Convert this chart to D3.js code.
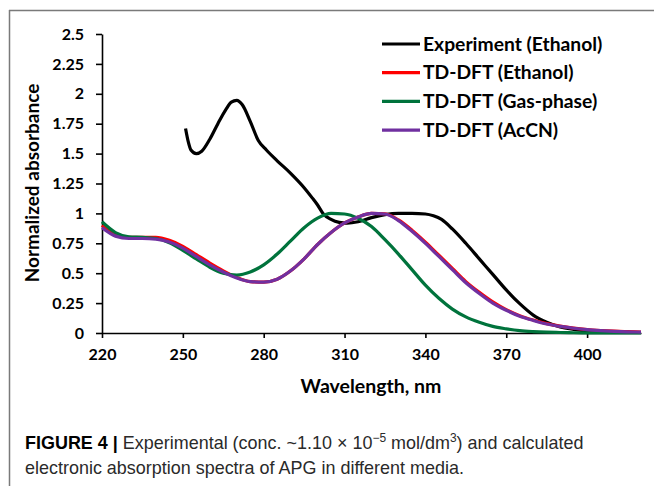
<!DOCTYPE html>
<html>
<head>
<meta charset="utf-8">
<script src="https://cdn.jsdelivr.net/npm/d3@7"></script>
<style>
  body { margin: 0; background: #fff; }
  svg { display: block; }
  .axis text { font-family: Lato, "Open Sans", sans-serif; font-weight: bold; font-size: 16px; fill: #000; }
  .axis path, .axis line { stroke: #000; stroke-width: 1.6px; }
</style>
</head>
<body>
<svg id="fig" width="654" height="486"></svg>
<script>
// series names + colours (legend order)
var seriesNames = ["Experiment (Ethanol)", "TD-DFT (Ethanol)", "TD-DFT (Gas-phase)", "TD-DFT (AcCN)"];
var seriesColors = ["#000000", "#ff0000", "#00733c", "#7030a0"];

// experimental spectrum (nm / normalized absorbance)
var expNm  = [251, 252, 253, 255, 257, 260, 263, 266, 268, 270, 272, 275, 278, 281, 285, 290, 295, 298, 300, 302, 305, 308, 311, 315, 320, 325, 330, 335, 340, 343, 346, 350, 355, 360, 365, 370, 375, 380, 385, 390, 395, 400, 405];
var expAbs = [1.71, 1.60, 1.53, 1.50, 1.52, 1.62, 1.75, 1.87, 1.93, 1.945, 1.91, 1.77, 1.61, 1.53, 1.44, 1.335, 1.215, 1.13, 1.07, 1.0, 0.95, 0.925, 0.918, 0.93, 0.965, 0.99, 1.0, 1.0, 0.995, 0.98, 0.95, 0.87, 0.75, 0.62, 0.49, 0.36, 0.245, 0.15, 0.09, 0.05, 0.03, 0.016, 0.006];

// TD-DFT spectra, all on one wavelength grid
var calcNm = [220, 225, 230, 235, 240, 245, 250, 255, 260, 265, 270, 275, 280, 285, 290, 295, 300, 305, 310, 315, 320, 325, 330, 335, 340, 345, 350, 355, 360, 365, 370, 375, 380, 385, 390, 395, 400, 405, 410, 415, 420];
var ethanolAbs = [0.90, 0.82, 0.80, 0.80, 0.80, 0.775, 0.725, 0.655, 0.585, 0.52, 0.465, 0.43, 0.425, 0.45, 0.52, 0.62, 0.74, 0.84, 0.92, 0.97, 1.0, 0.997, 0.945, 0.86, 0.76, 0.65, 0.54, 0.43, 0.34, 0.26, 0.195, 0.145, 0.108, 0.078, 0.057, 0.041, 0.029, 0.021, 0.015, 0.011, 0.008];
var gasAbs = [0.93, 0.84, 0.805, 0.80, 0.79, 0.755, 0.69, 0.62, 0.55, 0.50, 0.485, 0.51, 0.57, 0.66, 0.77, 0.88, 0.96, 1.0, 0.995, 0.96, 0.89, 0.78, 0.66, 0.53, 0.40, 0.29, 0.20, 0.135, 0.09, 0.055, 0.035, 0.02, 0.012, 0.007, 0.004, 0.002, 0.001, 0.001, 0.001, 0.001, 0.001];
var accnAbs = [0.88, 0.81, 0.79, 0.79, 0.785, 0.76, 0.71, 0.64, 0.57, 0.51, 0.46, 0.43, 0.425, 0.45, 0.52, 0.62, 0.74, 0.84, 0.92, 0.97, 1.0, 0.995, 0.94, 0.85, 0.75, 0.64, 0.53, 0.42, 0.33, 0.25, 0.19, 0.14, 0.105, 0.075, 0.055, 0.04, 0.028, 0.02, 0.014, 0.01, 0.008];

var xTicks = [220, 250, 280, 310, 340, 370, 400];
var yTicks = [0, 0.25, 0.5, 0.75, 1, 1.25, 1.5, 1.75, 2, 2.25, 2.5];

var svg = d3.select("#fig");

// figure frame (top + left)
svg.append("line").attr("x1", 9).attr("y1", 10.5).attr("x2", 654).attr("y2", 10.5)
    .style("stroke", "#7a7a7a").style("stroke-width", 1.5);
svg.append("line").attr("x1", 9.5).attr("y1", 10).attr("x2", 9.5).attr("y2", 486)
    .style("stroke", "#7a7a7a").style("stroke-width", 1.5);

var x = d3.scaleLinear().domain([220, 420]).range([102, 641]);
var y = d3.scaleLinear().domain([0, 2.5]).range([333, 34]);

svg.append("g").attr("class", "axis")
    .attr("transform", "translate(0,333)")
    .call(d3.axisBottom(x).tickValues(xTicks).tickSize(5).tickSizeOuter(0).tickPadding(11).tickFormat(d3.format("d")));
svg.append("g").attr("class", "axis")
    .attr("transform", "translate(102,0)")
    .call(d3.axisLeft(y).tickValues(yTicks).tickSize(6).tickSizeOuter(0).tickPadding(12).tickFormat(function(d){ return String(d); }));

// axis titles
svg.append("text")
    .attr("x", 371).attr("y", 393)
    .attr("text-anchor", "middle")
    .style("font-family", "Lato, sans-serif").style("font-weight", "bold").style("font-size", "19.5px")
    .text("Wavelength, nm");
svg.append("text")
    .attr("transform", "translate(39,183) rotate(-90)")
    .attr("text-anchor", "middle")
    .style("font-family", "Lato, sans-serif").style("font-weight", "bold").style("font-size", "19px")
    .text("Normalized absorbance");

// spectra
var line = d3.line()
    .x(function(d){ return x(d[0]); })
    .y(function(d){ return y(d[1]); })
    .curve(d3.curveMonotoneX);

var series = [
    d3.zip(expNm, expAbs),
    d3.zip(calcNm, ethanolAbs),
    d3.zip(calcNm, gasAbs),
    d3.zip(calcNm, accnAbs)
];
svg.append("g").selectAll("path")
    .data(series)
    .join("path")
    .attr("d", line)
    .style("fill", "none")
    .style("stroke", function(d, i){ return seriesColors[i]; })
    .style("stroke-width", 3.2)
    .style("stroke-linejoin", "round");

// legend
var leg = svg.append("g").selectAll("g")
    .data(seriesNames)
    .join("g")
    .attr("transform", function(d, i){ return "translate(382," + (44 + i * 28.7) + ")"; });
leg.append("line")
    .attr("x1", 0).attr("x2", 38)
    .style("stroke", function(d, i){ return seriesColors[i]; })
    .style("stroke-width", 3.2);
leg.append("text")
    .attr("x", 41).attr("dy", "0.35em")
    .style("font-family", "Lato, sans-serif").style("font-weight", "bold").style("font-size", "19.3px")
    .text(function(d){ return d; });

// caption - condensed look: squeeze Liberation Sans horizontally
var cap = svg.append("g")
    .style("font-family", "'Liberation Sans', Arial, sans-serif")
    .style("font-size", "18px").style("fill", "#2a2a2a");
var c1 = cap.append("text").attr("x", 0).attr("y", 449);
c1.append("tspan").style("font-weight", "bold").style("fill", "#000").text("FIGURE 4 | ");
c1.append("tspan").text("Experimental (conc. ~1.10 \u00d7 10");
c1.append("tspan").attr("dy", -7).style("font-size", "12px").text("\u22125");
c1.append("tspan").attr("dy", 7).text(" mol/dm");
c1.append("tspan").attr("dy", -7).style("font-size", "12px").text("3");
c1.append("tspan").attr("dy", 7).text(") and calculated");
cap.append("text").attr("x", 0).attr("y", 474)
    .text("electronic absorption spectra of APG in different media.");
var sx = 559 / c1.node().getComputedTextLength();
cap.attr("transform", "translate(25,0) scale(" + sx + ",1)");
</script>
</body>
</html>
